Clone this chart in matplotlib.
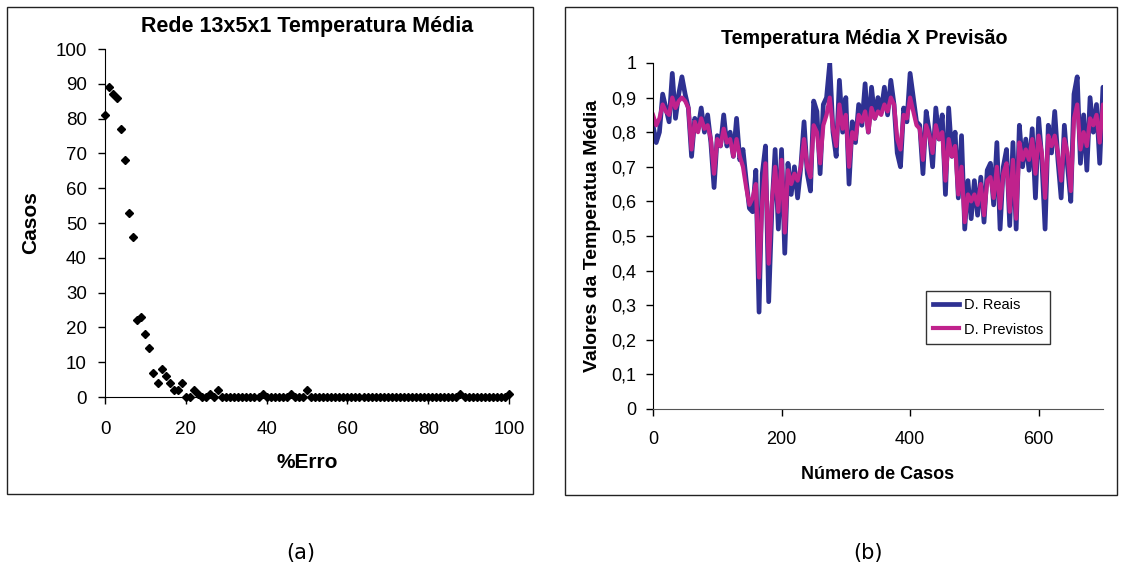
import numpy as np
import matplotlib
matplotlib.use("Agg")
import matplotlib.pyplot as plt
from matplotlib.patches import Rectangle
from matplotlib.ticker import FuncFormatter

plt.rcParams["font.family"] = ["Liberation Sans", "DejaVu Sans"]

# --- (a) histogram of % error ---
erro_pct = list(range(0, 101))
casos = [81, 89, 87, 86, 77, 68, 53, 46, 22, 23,
         18, 14, 7, 4, 8, 6, 4, 2, 2, 4,
         0, 0, 2, 1, 0, 0, 1, 0, 2, 0] + [0] * 71
casos[39] = 1
casos[46] = 1
casos[50] = 2
casos[88] = 1
casos[100] = 1

# --- (b) real vs predicted mean temperature, every 5th case ---
caso_step = 5
reais = [0.82, 0.77, 0.80, 0.91, 0.87, 0.83, 0.97, 0.84, 0.91, 0.96,
         0.91, 0.87, 0.73, 0.84, 0.81, 0.87, 0.80, 0.85, 0.77, 0.64,
         0.79, 0.76, 0.85, 0.76, 0.80, 0.73, 0.84, 0.72, 0.75, 0.66,
         0.58, 0.57, 0.69, 0.28, 0.68, 0.76, 0.31, 0.58, 0.75, 0.52,
         0.75, 0.45, 0.71, 0.62, 0.70, 0.61, 0.70, 0.83, 0.68, 0.63,
         0.89, 0.86, 0.68, 0.88, 0.90, 1.00, 0.80, 0.73, 0.95, 0.80,
         0.90, 0.65, 0.83, 0.77, 0.88, 0.82, 0.94, 0.80, 0.93, 0.84,
         0.90, 0.86, 0.93, 0.85, 0.95, 0.88, 0.74, 0.70, 0.87, 0.83,
         0.97, 0.90, 0.83, 0.82, 0.68, 0.86, 0.80, 0.70, 0.87, 0.78,
         0.85, 0.62, 0.87, 0.73, 0.80, 0.61, 0.79, 0.52, 0.66, 0.55,
         0.66, 0.56, 0.67, 0.54, 0.69, 0.71, 0.59, 0.77, 0.52, 0.70,
         0.75, 0.53, 0.77, 0.52, 0.82, 0.70, 0.78, 0.69, 0.81, 0.61,
         0.84, 0.72, 0.52, 0.82, 0.74, 0.86, 0.72, 0.61, 0.82, 0.70,
         0.60, 0.91, 0.96, 0.71, 0.85, 0.69, 0.90, 0.80, 0.88, 0.71,
         0.93, 0.80]
previstos = [0.85, 0.82, 0.84, 0.88, 0.86, 0.85, 0.90, 0.87, 0.89, 0.90,
             0.89, 0.87, 0.75, 0.83, 0.80, 0.84, 0.81, 0.82, 0.78, 0.68,
             0.78, 0.76, 0.81, 0.77, 0.78, 0.73, 0.78, 0.73, 0.70, 0.64,
             0.59, 0.61, 0.65, 0.38, 0.60, 0.71, 0.42, 0.60, 0.70, 0.57,
             0.72, 0.51, 0.69, 0.65, 0.68, 0.66, 0.70, 0.78, 0.70, 0.67,
             0.82, 0.80, 0.71, 0.82, 0.85, 0.90, 0.81, 0.76, 0.88, 0.81,
             0.85, 0.70, 0.80, 0.78, 0.85, 0.83, 0.86, 0.80, 0.87, 0.84,
             0.86, 0.85, 0.88, 0.86, 0.90, 0.88, 0.78, 0.75, 0.85, 0.84,
             0.90, 0.86, 0.82, 0.81, 0.72, 0.82, 0.79, 0.74, 0.82, 0.78,
             0.80, 0.66, 0.78, 0.73, 0.76, 0.62, 0.70, 0.54, 0.62, 0.60,
             0.62, 0.59, 0.65, 0.56, 0.66, 0.67, 0.61, 0.70, 0.58, 0.68,
             0.71, 0.57, 0.72, 0.55, 0.77, 0.72, 0.75, 0.72, 0.78, 0.68,
             0.79, 0.74, 0.61, 0.79, 0.76, 0.79, 0.74, 0.66, 0.78, 0.74,
             0.63, 0.84, 0.88, 0.75, 0.80, 0.76, 0.84, 0.82, 0.85, 0.77,
             0.88, 0.84]
casos_b = np.arange(len(reais)) * caso_step

BLUE = "#2e3192"
MAGENTA = "#c0228c"

fig = plt.figure(figsize=(11.22, 5.70), dpi=100)

# panel frames
for x0, y0, w, h in [(0.0062, 0.1333, 0.4688, 0.8544), (0.5036, 0.1316, 0.4920, 0.8560)]:
    fig.add_artist(Rectangle((x0, y0), w, h, transform=fig.transFigure,
                             fill=False, edgecolor="#222222", lw=1.0))

# --- panel (a) ---
ax1 = fig.add_axes([0.0936, 0.3035, 0.3600, 0.6105])
ax1.plot(erro_pct, casos, linestyle="none", marker="D", ms=4.3, color="black", clip_on=False)
ax1.set_xlim(0, 100)
ax1.set_ylim(0, 100)
ax1.set_xticks([0, 20, 40, 60, 80, 100])
ax1.set_yticks(range(0, 101, 10))
for s in ["top", "right"]:
    ax1.spines[s].set_visible(False)
ax1.tick_params(labelsize=13.5, length=5, width=1)
ax1.tick_params(axis="x", pad=12)
ax1.tick_params(axis="y", pad=8)
ax1.set_title("Rede 13x5x1 Temperatura Média", fontsize=15.5, fontweight="bold", pad=12)
ax1.set_xlabel("%Erro", fontsize=15, fontweight="bold", labelpad=11)
ax1.set_ylabel("Casos", fontsize=15, fontweight="bold", labelpad=11)

# --- panel (b) ---
ax2 = fig.add_axes([0.5820, 0.2825, 0.4010, 0.6070])
ax2.plot(casos_b, reais, color=BLUE, lw=3.4, label="D. Reais")
ax2.plot(casos_b, previstos, color=MAGENTA, lw=3.0, label="D. Previstos")
ax2.set_xlim(0, 700)
ax2.set_ylim(0, 1)
ax2.set_xticks([0, 200, 400, 600])
ax2.set_yticks(np.arange(0, 1.01, 0.1))
ax2.yaxis.set_major_formatter(FuncFormatter(
    lambda v, p: f"{v:.1f}".replace(".", ",").replace("0,0", "0").replace("1,0", "1")))
for s in ["top", "right"]:
    ax2.spines[s].set_visible(False)
ax2.spines["bottom"].set_color("#555555")
ax2.tick_params(labelsize=13, length=5, width=1)
ax2.tick_params(axis="x", pad=11)
ax2.tick_params(axis="y", pad=7)
ax2.set_title("Temperatura Média X Previsão", fontsize=14.2, fontweight="bold", pad=14, x=0.47)
ax2.set_xlabel("Número de Casos", fontsize=13, fontweight="bold", labelpad=13)
ax2.set_ylabel("Valores da Temperatua Média", fontsize=14, fontweight="bold", labelpad=7)
leg = ax2.legend(loc="upper left", bbox_to_anchor=(0.590, 0.362), fontsize=10.5,
                 frameon=True, fancybox=False, edgecolor="black", handlelength=1.8,
                 borderpad=0.5, labelspacing=0.7, handletextpad=0.3)
leg.get_frame().set_linewidth(1.0)

fig.text(0.268, 0.02, "(a)", fontsize=15, family="DejaVu Sans", ha="center")
fig.text(0.774, 0.02, "(b)", fontsize=15, family="DejaVu Sans", ha="center")

fig.savefig("out.png", dpi=100)
